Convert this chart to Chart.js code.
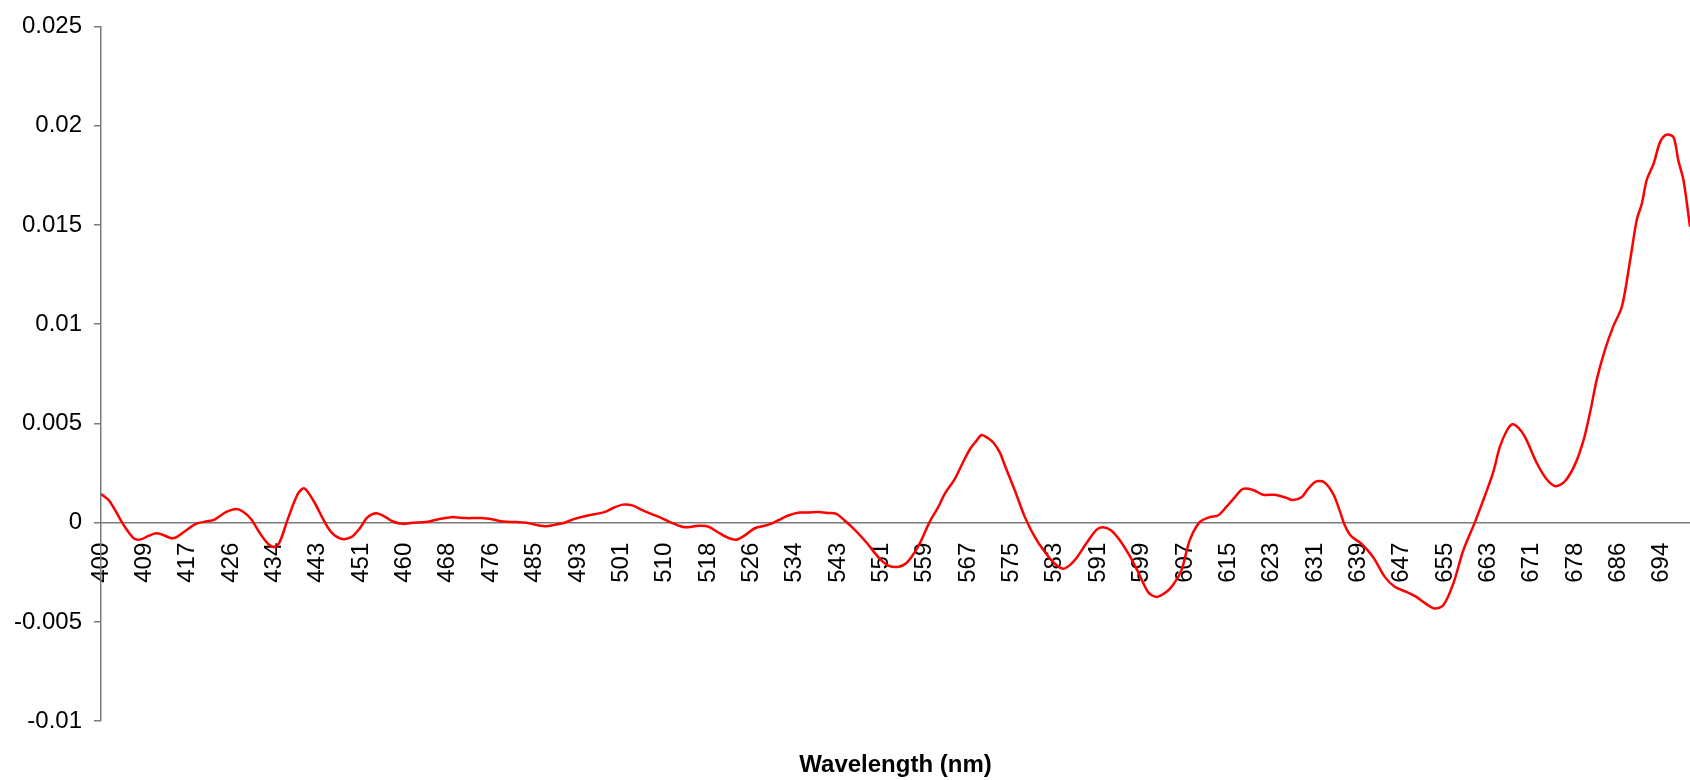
<!DOCTYPE html>
<html>
<head>
<meta charset="utf-8">
<title>Wavelength spectrum</title>
<script src="https://cdn.jsdelivr.net/npm/chart.js@4.4.1/dist/chart.umd.min.js"></script>
<style>
  html, body { margin: 0; padding: 0; background: #fff; }
  #wrap { width: 1690px; height: 780px; position: relative; }
</style>
</head>
<body>
<div id="wrap"><canvas id="spectrumChart"></canvas></div>
<script>
// tick labels of the category axis (one every tick step)
const tickLabels = ['400', '409', '417', '426', '434', '443', '451', '460', '468', '476',
    '485', '493', '501', '510', '518', '526', '534', '543', '551', '559',
    '567', '575', '583', '591', '599', '607', '615', '623', '631', '639',
    '647', '655', '663', '671', '678', '686', '694'];

// sample positions, in tick steps from the 400 label
const samplePos = [0, 0.19, 0.46, 0.58, 0.77, 0.92, 1.08, 1.27, 1.42, 1.62,
    1.73, 1.96, 2.19, 2.42, 2.62, 2.88, 3.12, 3.27, 3.46, 3.65,
    3.85, 4.0, 4.12, 4.31, 4.54, 4.69, 4.92, 5.12, 5.31, 5.54,
    5.77, 5.96, 6.15, 6.35, 6.54, 6.73, 6.96, 7.19, 7.5, 7.81,
    8.08, 8.42, 8.77, 9.04, 9.27, 9.58, 9.81, 10.04, 10.27, 10.46,
    10.69, 10.92, 11.23, 11.61, 11.81, 12.04, 12.27, 12.46, 12.69, 12.92,
    13.15, 13.38, 13.54, 13.77, 14.0, 14.23, 14.46, 14.65, 14.85, 15.08,
    15.38, 15.61, 15.85, 16.11, 16.31, 16.54, 16.77, 16.96, 17.15, 17.34,
    17.58, 17.77, 17.96, 18.15, 18.38, 18.58, 18.77, 18.92, 19.11, 19.31,
    19.46, 19.69, 19.88, 20.04, 20.19, 20.31, 20.46, 20.58, 20.73, 20.85,
    21.08, 21.31, 21.54, 21.77, 22.0, 22.19, 22.34, 22.49, 22.72, 22.96,
    23.11, 23.3, 23.49, 23.72, 23.92, 24.15, 24.34, 24.57, 24.72, 24.92,
    25.11, 25.34, 25.57, 25.76, 25.95, 26.15, 26.34, 26.57, 26.8, 27.11,
    27.34, 27.49, 27.69, 27.84, 28.03, 28.22, 28.42, 28.57, 28.69, 28.84,
    29.07, 29.34, 29.61, 29.84, 30.11, 30.34, 30.57, 30.76, 30.96, 31.19,
    31.42, 31.69, 31.92, 32.11, 32.26, 32.42, 32.55, 32.69, 32.85, 33.11,
    33.34, 33.55, 33.77, 34.0, 34.2, 34.35, 34.5, 34.69, 34.88, 35.08,
    35.27, 35.42, 35.54, 35.65, 35.81, 35.96, 36.11, 36.27, 36.38, 36.5,
    36.65];

const signal = [0.00145, 0.00111, 0.00011, -0.00031, -0.00081, -0.00084, -0.00068, -0.00053, -0.00061, -0.00078,
    -0.00074, -0.00039, -0.00006, 0.00006, 0.00016, 0.00053, 0.00069, 0.00056, 0.00019, -0.00048,
    -0.00106, -0.00123, -0.00098, 0.00019, 0.00145, 0.00173, 0.00103, 0.00019, -0.00048, -0.00081,
    -0.00073, -0.00031, 0.00028, 0.00048, 0.00031, 0.00006, -0.00006, 0.0, 0.00003, 0.00019,
    0.00028, 0.00023, 0.00023, 0.00016, 0.00006, 0.00003, 0.0, -0.00011, -0.00018, -0.00011,
    0.0, 0.00019, 0.00036, 0.00053, 0.00074, 0.00091, 0.00086, 0.00066, 0.00044, 0.00024,
    0.0, -0.00019, -0.00023, -0.00016, -0.00019, -0.00048, -0.00076, -0.00086, -0.00064, -0.00028,
    -0.00011, 0.00011, 0.00036, 0.00051, 0.00051, 0.00054, 0.00049, 0.00044, 0.00011, -0.00026,
    -0.00081, -0.00131, -0.00181, -0.00215, -0.00223, -0.00203, -0.00148, -0.00089, 0.00003, 0.00078,
    0.00145, 0.0022, 0.00303, 0.0037, 0.00412, 0.00442, 0.00425, 0.00404, 0.00354, 0.00287,
    0.00161, 0.00028, -0.00073, -0.00148, -0.00207, -0.00232, -0.00215, -0.00181, -0.00106, -0.00036,
    -0.00023, -0.00039, -0.00086, -0.00165, -0.00248, -0.00349, -0.00374, -0.00349, -0.00315, -0.0024,
    -0.00089, 0.00003, 0.00028, 0.00036, 0.00078, 0.00128, 0.0017, 0.00165, 0.00141, 0.0014,
    0.00125, 0.00114, 0.00128, 0.0017, 0.00208, 0.00203, 0.00145, 0.00061, -0.00014, -0.00069,
    -0.00106, -0.00173, -0.00273, -0.00323, -0.00349, -0.00374, -0.0041, -0.00432, -0.00416, -0.00307,
    -0.0014, 0.00003, 0.00136, 0.00253, 0.00379, 0.00462, 0.00496, 0.00479, 0.0043, 0.00303,
    0.0022, 0.00184, 0.0021, 0.00295, 0.0042, 0.0056, 0.00722, 0.00872, 0.00989, 0.01089,
    0.01323, 0.01524, 0.01608, 0.01725, 0.01808, 0.01917, 0.01955, 0.01942, 0.01825, 0.01725,
    0.01491];

const yMin = -0.01;
const yMax = 0.025;
const yStep = 0.005;
const xEnd = 36.65;

const axisGray = '#7a7a7a';
const fontFamily = "'Liberation Sans', Arial, sans-serif";

new Chart(document.getElementById('spectrumChart').getContext('2d'), {
    type: 'line',
    data: {
        datasets: [{
            data: samplePos.map((x, i) => ({ x: x, y: signal[i] })),
            borderColor: '#ff0000',
            borderWidth: 2.5,
            pointRadius: 0,
            tension: 0.3,
            fill: false
        }]
    },
    options: {
        responsive: true,
        maintainAspectRatio: false,
        animation: false,
        layout: { padding: { left: 13, top: 22, right: 0, bottom: 0 } },
        plugins: {
            legend: { display: false },
            tooltip: { enabled: false },
            title: {
                display: true,
                position: 'bottom',
                fullSize: false,
                text: 'Wavelength (nm)',
                color: '#000',
                font: { family: fontFamily, size: 24, weight: 'bold' },
                padding: { top: 30, bottom: 0 }
            }
        },
        scales: {
            x: {
                type: 'linear',
                position: { y: 0 },
                min: 0,
                max: xEnd,
                afterBuildTicks: axis => {
                    axis.ticks = tickLabels.map((_, i) => ({ value: i }));
                },
                // labels sit on the zero line; don't let them pad the plot edges
                afterFit: axis => {
                    axis.paddingLeft = 0;
                    axis.paddingRight = 0;
                },
                grid: { display: false, drawTicks: false },
                border: { display: true, color: axisGray, width: 1.5 },
                ticks: {
                    autoSkip: false,
                    minRotation: 90,
                    maxRotation: 90,
                    padding: 20,
                    color: '#000',
                    font: { family: fontFamily, size: 24 },
                    callback: v => tickLabels[v]
                }
            },
            y: {
                type: 'linear',
                min: yMin,
                max: yMax,
                afterFit: axis => { axis.width = 88; },
                grid: {
                    display: true,
                    drawOnChartArea: false,
                    drawTicks: true,
                    tickLength: 7,
                    color: axisGray,
                    lineWidth: 1.5
                },
                border: { display: true, color: axisGray, width: 1.5 },
                ticks: {
                    stepSize: yStep,
                    padding: 12,
                    color: '#000',
                    font: { family: fontFamily, size: 24 },
                    callback: v => String(+v.toFixed(3))
                }
            }
        }
    }
});
</script>
</body>
</html>
